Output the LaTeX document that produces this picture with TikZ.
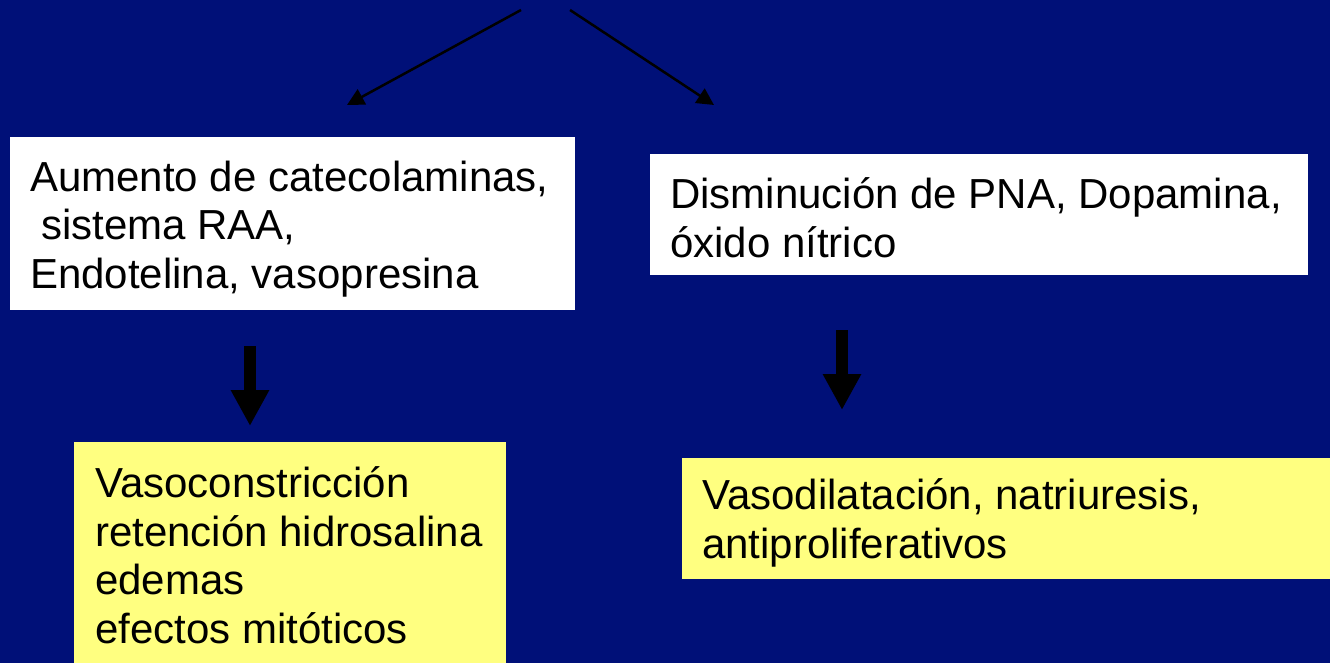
\documentclass[tikz,border=0pt]{standalone}
\usepackage{fontspec}
\setmainfont{Liberation Sans}
\usetikzlibrary{arrows.meta}
\definecolor{navy}{RGB}{0,16,120}
\definecolor{paleyellow}{RGB}{255,255,128}
\tikzset{
  box/.style={draw=none, rectangle, inner sep=0pt, anchor=north west},
  whitebox/.style={box, fill=white},
  yellowbox/.style={box, fill=paleyellow},
  txt/.style={anchor=base west, inner sep=0pt, align=left, text=black,
    font=\fontsize{42}{48.5}\selectfont},
  thinarrow/.style={draw=black, line width=2.5pt, -{Triangle[length=17pt,width=17pt]}},
  blockarrow/.style={draw=black, line width=12pt, -{Triangle[length=36pt,width=36pt]}}
}
\begin{document}
\begin{tikzpicture}[x=1pt,y=-1pt]
\path[fill=navy, use as bounding box] (0,0) rectangle (1330,663);
% boxes
\node[whitebox, minimum width=565pt, minimum height=173pt] (b1) at (10,137) {};
\node[whitebox, minimum width=658pt, minimum height=121pt] (b2) at (650,154) {};
\node[yellowbox, minimum width=432pt, minimum height=221pt] (b3) at (74,442) {};
\node[yellowbox, minimum width=648pt, minimum height=121pt] (b4) at (682,458) {};
% texts (base anchor = last line)
\node[txt] (t1) at (30,288) {Aumento de catecolaminas,\\\hspace*{11pt}sistema RAA,\\Endotelina, vasopresina};
\node[txt] (t2) at (670,257) {Disminución de PNA, Dopamina,\\óxido nítrico};
\node[txt] (t3) at (95,643) {Vasoconstricción\\retención hidrosalina\\edemas\\efectos mitóticos};
\node[txt] (t4) at (702,558) {Vasodilatación, natriuresis,\\antiproliferativos};
% top arrows
\coordinate (s1) at (521,10);
\coordinate (e1) at (347,105);
\coordinate (s2) at (570,10);
\coordinate (e2) at (714,105);
\draw[thinarrow] (s1) -- (e1);
\draw[thinarrow] (s2) -- (e2);
% block arrows
\coordinate (a1s) at (250,346);
\coordinate (a1e) at (250,426);
\coordinate (a2s) at (842,330);
\coordinate (a2e) at (842,410);
\draw[blockarrow] (a1s) -- (a1e);
\draw[blockarrow] (a2s) -- (a2e);
\end{tikzpicture}
\end{document}
